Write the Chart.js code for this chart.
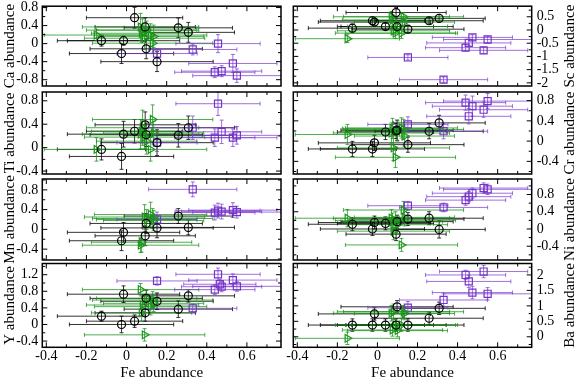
<!DOCTYPE html>
<html lang="en">
<head>
<meta charset="UTF-8">
<title>Abundances vs Fe</title>
<script src="https://cdn.jsdelivr.net/npm/chart.js"></script>
<style>
  body { margin: 0; background: #fff; }
  #wrap { position: relative; width: 575px; height: 378px; }
  #wrap canvas { position: absolute; left: 0; top: 0; }
</style>
</head>
<body>
<div id="wrap"></div>
<script>
// Fe abundance of each star in the three groups (same stars in every panel)
const blackFe     = [-0.125, -0.025, -0.015, 0.04, 0.093, 0.098, 0.152, 0.258, 0.308];
const blackFeErr  = [0.22, 0.26, 0.28, 0.24, 0.25, 0.28, 0.28, 0.27, 0.23];
const greenFe     = [-0.15, 0.07, 0.075, 0.08, 0.09, 0.10, 0.12, 0.13, 0.135];
const greenFeErr  = [0.26, 0.29, 0.25, 0.28, 0.3, 0.25, 0.28, 0.3, 0.25];
const purpleFe    = [0.152, 0.33, 0.44, 0.456, 0.465, 0.474, 0.53, 0.55];
const purpleFeErr = [0.2, 0.22, 0.2, 0.21, 0.18, 0.2, 0.22, 0.22];

// Ca
const caBlack     = [0.065, -0.22, 0.065, 0.575, 0.37, -0.115, -0.40, 0.35, 0.25];
const caBlackErr  = [0.12, 0.22, 0.1, 0.23, 0.2, 0.22, 0.22, 0.22, 0.22];
const caGreen     = [0.19, 0.37, 0.23, 0.30, 0.12, 0.30, 0.19, 0.01, 0.16];
const caGreenErr  = [0.12, 0.3, 0.2, 0.25, 0.25, 0.2, 0.25, 0.22, 0.25];
const caPurple    = [-0.22, -0.13, -0.635, 0.0, null, -0.61, -0.44, -0.71];
const caPurpleErr = [0.1, 0.12, 0.12, 0.2, null, 0.12, 0.2, 0.15];
// Sc
const scBlack     = [0.07, 0.35, 0.30, 0.13, 0.66, 0.13, 0.03, 0.35, 0.44];
const scBlackErr  = [0.15, 0.15, 0.12, 0.12, 0.2, 0.15, 0.12, 0.12, 0.15];
const scGreen     = [-0.33, 0.5, 0.38, -0.03, -0.12, 0.13, -0.12, 0.5, 0.3];
const scGreenErr  = [0.15, 0.2, 0.2, 0.15, 0.2, 0.2, 0.2, 0.15, 0.15];
const scPurple    = [-1.04, -1.88, -0.67, -0.49, null, -0.28, -0.77, -0.36];
const scPurpleErr = [0.1, 0.1, 0.12, 0.12, null, 0.1, 0.12, 0.12];
// Ti
const tiBlack     = [-0.03, -0.15, 0.23, 0.28, 0.39, 0.22, 0.085, 0.21, 0.34];
const tiBlackErr  = [0.18, 0.22, 0.22, 0.2, 0.22, 0.2, 0.22, 0.2, 0.2];
const tiGreen     = [-0.03, 0.23, 0.28, 0.34, 0.18, 0.11, -0.03, 0.48, 0.25];
const tiGreenErr  = [0.2, 0.25, 0.2, 0.3, 0.2, 0.22, 0.2, 0.25, 0.2];
const tiPurple    = [0.085, 0.34, 0.17, 0.75, null, 0.27, 0.17, 0.21];
const tiPurpleErr = [0.15, 0.2, 0.15, 0.2, null, 0.2, 0.15, 0.15];
// Cr
const crBlack     = [-0.155, -0.155, -0.035, 0.18, 0.2, 0.215, -0.07, 0.195, 0.36];
const crBlackErr  = [0.15, 0.15, 0.15, 0.15, 0.15, 0.2, 0.15, 0.15, 0.15];
const crGreen     = [0.13, 0.16, 0.25, -0.135, -0.32, 0.2, 0.26, 0.23, 0.1];
const crGreenErr  = [0.2, 0.2, 0.2, 0.25, 0.2, 0.2, 0.2, 0.2, 0.2];
const crPurple    = [0.33, 0.195, 0.76, 0.49, null, 0.69, 0.62, 0.79];
const crPurpleErr = [0.15, 0.15, 0.15, 0.15, null, 0.2, 0.15, 0.15];
// Mn
const mnBlack     = [null, -0.23, -0.06, null, -0.13, 0.12, 0.03, 0.27, 0.04];
const mnBlackErr  = [null, 0.2, 0.2, null, 0.2, 0.2, 0.2, 0.15, 0.15];
const mnGreen     = [null, -0.32, -0.26, null, 0.25, 0.2, 0.3, 0.22, 0.18];
const mnGreenErr  = [null, 0.15, 0.2, null, 0.25, 0.2, 0.25, 0.2, 0.2];
const mnPurple    = [0.2, 0.81, 0.34, 0.38, null, 0.36, 0.39, 0.35];
const mnPurpleErr = [0.15, 0.15, 0.15, 0.15, null, 0.15, 0.15, 0.12];
// Ni
const niBlack     = [0.11, 0.0, 0.15, 0.13, -0.12, 0.17, 0.23, 0.25, -0.01];
const niBlackErr  = [0.15, 0.15, 0.15, 0.15, 0.15, 0.15, 0.15, 0.15, 0.2];
const niGreen     = [0.25, 0.25, 0.17, -0.05, 0.2, 0.1, -0.37, 0.44, 0.27];
const niGreenErr  = [0.2, 0.2, 0.2, 0.2, 0.2, 0.2, 0.15, 0.2, 0.2];
const niPurple    = [0.54, 0.5, 0.67, 0.75, null, 0.83, 0.95, 0.92];
const niPurpleErr = [0.1, 0.1, 0.12, 0.12, null, 0.12, 0.12, 0.12];
// Y
const yBlack      = [0.2, 0.0, 0.73, 0.08, 0.28, 0.63, 0.56, 0.37, 0.69];
const yBlackErr   = [0.12, 0.2, 0.2, 0.15, 0.2, 0.2, 0.2, 0.2, 0.15];
const yGreen      = [null, 0.84, 0.28, 0.47, -0.25, 0.63, 0.43, 0.59, 0.51];
const yGreenErr   = [null, 0.15, 0.2, 0.2, 0.15, 0.2, 0.2, 0.2, 0.2];
const yPurple     = [1.05, 0.39, 0.84, 1.21, 0.97, 0.91, 1.07, 0.92];
const yPurpleErr  = [0.1, 0.1, 0.12, 0.15, 0.12, 0.12, 0.15, 0.12];
// Ba
const baBlack     = [0.38, 0.38, 0.74, 0.38, 0.38, 0.97, 0.38, 0.6, 0.92];
const baBlackErr  = [0.2, 0.2, 0.2, 0.2, 0.2, 0.2, 0.2, 0.2, 0.2];
const baGreen     = [-0.05, 0.76, 0.22, 0.81, 0.38, 0.2, 0.38, 0.81, 0.75];
const baGreenErr  = [0.2, 0.25, 0.2, 0.25, 0.2, 0.2, 0.2, 0.2, 0.2];
const baPurple    = [0.94, 1.19, 2.0, 1.79, null, 1.43, 2.11, 1.39];
const baPurpleErr = [0.2, 0.2, 0.15, 0.2, null, 0.2, 0.2, 0.2];

// panel layout (pixels on the page)
const COLS = [[42.3, 281], [293.3, 531.7]];
const ROWS = [[4, 86], [92, 174], [179, 260], [263.5, 347.3]];
const FONT = 'Liberation Serif';

const panels = [
  { name: 'Ca', col: 0, row: 0, min: -0.94, max: 0.83, step: 0.4, d: [caBlack, caBlackErr, caGreen, caGreenErr, caPurple, caPurpleErr] },
  { name: 'Sc', col: 1, row: 0, min: -2.12, max: 0.9, step: 0.5, d: [scBlack, scBlackErr, scGreen, scGreenErr, scPurple, scPurpleErr] },
  { name: 'Ti', col: 0, row: 1, min: -0.45, max: 0.95, step: 0.4, d: [tiBlack, tiBlackErr, tiGreen, tiGreenErr, tiPurple, tiPurpleErr] },
  { name: 'Cr', col: 1, row: 1, min: -0.65, max: 0.97, step: 0.4, d: [crBlack, crBlackErr, crGreen, crGreenErr, crPurple, crPurpleErr] },
  { name: 'Mn', col: 0, row: 2, min: -0.62, max: 1.02, step: 0.4, d: [mnBlack, mnBlackErr, mnGreen, mnGreenErr, mnPurple, mnPurpleErr] },
  { name: 'Ni', col: 1, row: 2, min: -0.72, max: 1.16, step: 0.4, d: [niBlack, niBlackErr, niGreen, niGreenErr, niPurple, niPurpleErr] },
  { name: 'Y',  col: 0, row: 3, min: -0.55, max: 1.47, step: 0.4, d: [yBlack, yBlackErr, yGreen, yGreenErr, yPurple, yPurpleErr] },
  { name: 'Ba', col: 1, row: 3, min: -0.34, max: 2.37, step: 0.5, d: [baBlack, baBlackErr, baGreen, baGreenErr, baPurple, baPurpleErr] }
];

function series(fe, feErr, vals, errs, style, color, barColor, radius, rotation) {
  const pts = [];
  vals.forEach((v, i) => {
    if (v !== null) pts.push({ x: fe[i], y: v, xErr: feErr[i], yErr: errs[i] });
  });
  return {
    data: pts, barColor: barColor,
    pointStyle: style, pointRadius: radius, pointRotation: rotation,
    pointBorderColor: color, pointBackgroundColor: 'rgba(0,0,0,0)', pointBorderWidth: 1.2,
    borderColor: color, showLine: false
  };
}

// error bars, frame with inward ticks, and right-hand titles
const panelDeco = {
  id: 'panelDeco',
  beforeDatasetsDraw(chart) {
    const { ctx, chartArea: a, scales: { x, y } } = chart;
    ctx.save();
    ctx.beginPath();
    ctx.rect(a.left, a.top, a.right - a.left, a.bottom - a.top);
    ctx.clip();
    ctx.lineWidth = 1;
    chart.data.datasets.forEach(ds => {
      ctx.strokeStyle = ds.barColor;
      ds.data.forEach(p => {
        const px = x.getPixelForValue(p.x), py = y.getPixelForValue(p.y);
        const x0 = x.getPixelForValue(p.x - p.xErr), x1 = x.getPixelForValue(p.x + p.xErr);
        const y0 = y.getPixelForValue(p.y - p.yErr), y1 = y.getPixelForValue(p.y + p.yErr);
        ctx.beginPath();
        ctx.moveTo(x0, py); ctx.lineTo(x1, py);
        ctx.moveTo(x0, py - 2); ctx.lineTo(x0, py + 2);
        ctx.moveTo(x1, py - 2); ctx.lineTo(x1, py + 2);
        ctx.moveTo(px, y0); ctx.lineTo(px, y1);
        ctx.moveTo(px - 2, y0); ctx.lineTo(px + 2, y0);
        ctx.moveTo(px - 2, y1); ctx.lineTo(px + 2, y1);
        ctx.stroke();
      });
    });
    ctx.restore();
  },
  afterDraw(chart, args, opts) {
    const { ctx, chartArea: a, scales: { x, y } } = chart;
    ctx.save();
    ctx.strokeStyle = '#000';
    ctx.lineWidth = 1;
    ctx.beginPath();
    // x ticks every 0.1, long every 0.2
    for (let k = Math.ceil(x.min / 0.1 - 1e-6); k <= Math.floor(x.max / 0.1 + 1e-6); k++) {
      const len = k % 2 === 0 ? 5 : 3;
      const p = x.getPixelForValue(k * 0.1);
      ctx.moveTo(p, a.bottom); ctx.lineTo(p, a.bottom - len);
      ctx.moveTo(p, a.top); ctx.lineTo(p, a.top + len);
    }
    const ms = opts.step / 2;
    for (let k = Math.ceil(y.min / ms - 1e-6); k <= Math.floor(y.max / ms + 1e-6); k++) {
      const len = k % 2 === 0 ? 5 : 3;
      const p = y.getPixelForValue(k * ms);
      ctx.moveTo(a.left, p); ctx.lineTo(a.left + len, p);
      ctx.moveTo(a.right, p); ctx.lineTo(a.right - len, p);
    }
    ctx.stroke();
    ctx.lineWidth = 1.5;
    ctx.strokeRect(a.left, a.top, a.right - a.left, a.bottom - a.top);
    if (opts.rightTitle) {
      ctx.translate(570, (a.top + a.bottom) / 2);
      ctx.rotate(-Math.PI / 2);
      ctx.fillStyle = '#000';
      ctx.font = '15px "' + FONT + '"';
      ctx.textAlign = 'center';
      ctx.textBaseline = 'middle';
      ctx.fillText(opts.rightTitle, 0, 0);
    }
    ctx.restore();
  }
};

const fmt = v => String(Math.round(v * 100) / 100);

panels.forEach(p => {
  const cv = document.createElement('canvas');
  cv.width = 575; cv.height = 378;
  document.getElementById('wrap').appendChild(cv);
  const [l, r] = COLS[p.col];
  const [t, b] = ROWS[p.row];
  const onRight = p.col === 1;
  const bottomRow = p.row === 3;
  const yW = onRight ? 575 - r : l;
  const xH = bottomRow ? 378 - b : 0;
  const title = p.name + ' abundance';

  new Chart(cv, {
    type: 'scatter',
    data: {
      datasets: [
        series(blackFe, blackFeErr, p.d[0], p.d[1], 'circle', '#000', 'rgba(0,0,0,0.8)', 4, 0),
        series(greenFe, greenFeErr, p.d[2], p.d[3], 'triangle', '#1c961c', 'rgba(20,145,20,0.75)', 4.5, 90),
        series(purpleFe, purpleFeErr, p.d[4], p.d[5], 'rect', '#7434c8', 'rgba(124,58,206,0.72)', 5, 0)
      ]
    },
    options: {
      responsive: false,
      animation: false,
      events: [],
      layout: {
        padding: {
          left: onRight ? l : 0,
          right: onRight ? 0 : 575 - r,
          top: t,
          bottom: 378 - b - xH
        }
      },
      scales: {
        x: {
          type: 'linear',
          min: -0.42, max: 0.77,
          display: bottomRow,
          grid: { display: false, drawTicks: false },
          border: { display: false },
          ticks: {
            stepSize: 0.2, includeBounds: false, autoSkip: false, padding: 1,
            color: '#000', font: { family: FONT, size: 14 },
            callback: fmt
          },
          title: {
            display: true, text: 'Fe abundance', color: '#000',
            font: { family: FONT, size: 15 }, padding: { top: 0, bottom: -4 }
          },
          afterFit(s) { s.height = xH; s.paddingLeft = 0; s.paddingRight = 0; }
        },
        y: {
          type: 'linear',
          position: onRight ? 'right' : 'left',
          min: p.min, max: p.max,
          grid: { display: false, drawTicks: false },
          border: { display: false },
          ticks: {
            stepSize: p.step, includeBounds: false, autoSkip: false,
            padding: onRight ? 5 : 4,
            color: '#000', font: { family: FONT, size: 14 },
            callback: fmt
          },
          title: {
            display: !onRight, text: title, color: '#000',
            font: { family: FONT, size: 15 }, padding: { top: 1, bottom: 0 }
          },
          afterFit(s) { s.width = yW; s.paddingTop = 0; s.paddingBottom = 0; }
        }
      },
      plugins: {
        legend: { display: false },
        tooltip: { enabled: false },
        panelDeco: { step: p.step, rightTitle: onRight ? title : null }
      }
    },
    plugins: [panelDeco]
  });
});
</script>
</body>
</html>
